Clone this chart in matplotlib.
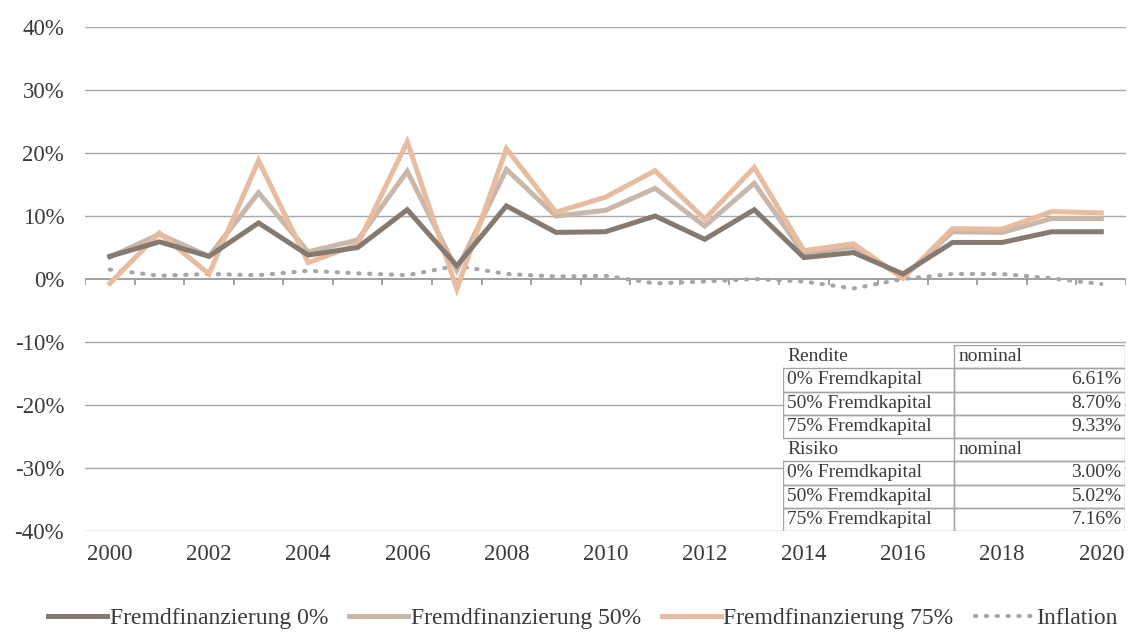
import matplotlib.pyplot as plt
from matplotlib.lines import Line2D

plt.rcParams['font.family'] = ['Liberation Serif', 'DejaVu Serif']

years = list(range(2000, 2021))
fk_0 = [3.6, 5.9, 3.6, 8.9, 3.8, 5.0, 11.0, 2.1, 11.6, 7.4, 7.5,
        10.0, 6.3, 11.0, 3.4, 4.2, 0.8, 5.8, 5.8, 7.5, 7.5]
fk_50 = [3.5, 7.1, 3.6, 13.7, 4.3, 6.2, 17.1, 1.4, 17.4, 10.0, 10.9,
         14.4, 8.4, 15.2, 4.0, 5.1, 0.3, 7.5, 7.4, 9.6, 9.6]
fk_75 = [-0.7, 7.3, 0.8, 18.8, 2.6, 5.5, 21.8, -1.6, 20.7, 10.6, 13.0,
         17.2, 9.5, 17.7, 4.5, 5.6, 0.1, 8.0, 7.9, 10.7, 10.5]
inflation = [1.5, 0.5, 0.8, 0.6, 1.3, 0.9, 0.6, 2.1, 0.8, 0.4, 0.5,
             -0.7, -0.4, 0.0, -0.4, -1.5, 0.0, 0.8, 0.8, 0.1, -0.8]

table_labels = ['Rendite', '0% Fremdkapital', '50% Fremdkapital', '75% Fremdkapital',
                'Risiko', '0% Fremdkapital', '50% Fremdkapital', '75% Fremdkapital']
table_values = ['nominal', '6.61%', '8.70%', '9.33%',
                'nominal', '3.00%', '5.02%', '7.16%']

c_0 = '#867a70'
c_50 = '#c9b7aa'
c_75 = '#e8bc9e'
c_infl = '#a6a6a6'
grid_c = '#a8a8a8'
text_c = '#3a3a3a'
lw_main = 3.6
dots = (0, (0.3, 2.3))

fig = plt.figure(figsize=(11.34, 6.32), dpi=100)
ax = fig.add_axes([0.075, 1 - 531 / 632, 0.918, (531 - 27) / 632])

x = list(range(len(years)))
ax.plot(x, fk_0, color=c_0, lw=lw_main, solid_joinstyle='miter', zorder=4)
ax.plot(x, fk_50, color=c_50, lw=lw_main, solid_joinstyle='miter', zorder=3)
ax.plot(x, fk_75, color=c_75, lw=lw_main, solid_joinstyle='miter', zorder=3.5)
ax.plot(x, inflation, color=c_infl, lw=3.0, linestyle=dots,
        dash_capstyle='round', zorder=2)

ax.set_xlim(-0.5, len(years) - 0.5)
ax.set_ylim(-40, 40)
for v in range(-40, 41, 10):
    if v != 0:
        ax.axhline(v, color=grid_c, lw=1, zorder=0)
# category axis at zero with ticks between the years
ax.axhline(0, color='#9a9a9a', lw=1.3, zorder=1)
ax.vlines([i - 0.5 for i in range(len(years) + 1)], -0.9, 0, color='#9a9a9a', lw=1.3, zorder=1)

ax.set_xticks(x[::2])
ax.set_xticklabels([str(y) for y in years[::2]])
ax.set_yticks(range(-40, 41, 10))
ax.set_yticklabels([f'{v}%' for v in range(-40, 41, 10)])
ax.tick_params(axis='x', length=0, pad=9, labelsize=16.5, labelcolor=text_c)
ax.tick_params(axis='y', length=0, pad=15, labelsize=16.5, labelcolor=text_c)
for s in ax.spines.values():
    s.set_visible(False)

# summary table in the lower right
tx0, tx1 = 783 / 1134, 1125 / 1134
ty0, ty1 = 1 - 531 / 632, 1 - 345 / 632
tab = fig.add_axes([tx0, ty0, tx1 - tx0, ty1 - ty0])
tab.set_xlim(0, 1)
tab.set_ylim(8, 0)
tab.axis('off')
tab.add_patch(plt.Rectangle((0, 0), 1, 8, facecolor='white', edgecolor='none'))
split = (954 - 783) / (1125 - 783)
edge = dict(color='#a4a4a4', lw=1)
for i, (lab, val) in enumerate(zip(table_labels, table_values)):
    header = lab in ('Rendite', 'Risiko')
    # value cell box
    tab.plot([split, 1, 1, split, split], [i, i, i + 1, i + 1, i], **edge)
    if not header:
        tab.plot([0, split, split, 0, 0], [i, i, i + 1, i + 1, i], **edge)
    tab.text(0.012, i + 0.5, lab, fontsize=14, color=text_c, va='center', ha='left')
    if header:
        tab.text(split + 0.012, i + 0.5, val, fontsize=14, color=text_c, va='center', ha='left')
    else:
        tab.text(0.99, i + 0.5, val, fontsize=14, color=text_c, va='center', ha='right')

handles = [
    Line2D([], [], color=c_0, lw=lw_main),
    Line2D([], [], color=c_50, lw=lw_main),
    Line2D([], [], color=c_75, lw=lw_main),
    Line2D([], [], color=c_infl, lw=3.0, linestyle=dots, dash_capstyle='round'),
]
labels = ['Fremdfinanzierung 0%', 'Fremdfinanzierung 50%', 'Fremdfinanzierung 75%', 'Inflation']
fig.legend(handles, labels, loc='center', bbox_to_anchor=(0.514, 0.022), ncol=4,
           frameon=False, fontsize=17, handlelength=2.5, handletextpad=0.1,
           columnspacing=0.9, labelcolor=text_c)

fig.savefig('out.png', dpi=100, facecolor='white')
